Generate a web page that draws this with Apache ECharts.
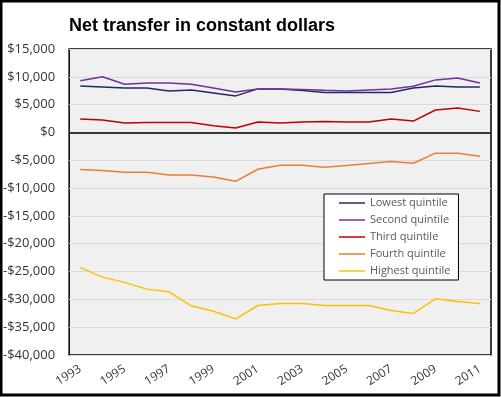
<!DOCTYPE html>
<html>
<head>
<meta charset="utf-8">
<script src="https://cdn.jsdelivr.net/npm/echarts@6/dist/echarts.min.js"></script>
<style>
  html, body { margin: 0; padding: 0; background: #fff; }
  #main { width: 501px; height: 397px; }
</style>
</head>
<body>
<div id="main"></div>
<script>
// years on the category axis
var years = ['1993', '1994', '1995', '1996', '1997', '1998', '1999', '2000', '2001', '2002',
  '2003', '2004', '2005', '2006', '2007', '2008', '2009', '2010', '2011'];

// net transfer by quintile
var lowest = [8370, 8190, 8000, 8000, 7470, 7650, 7110, 6570, 7830, 7830,
  7530, 7200, 7200, 7200, 7200, 8000, 8370, 8190, 8190];
var second = [9280, 10000, 8670, 8900, 8900, 8670, 8000, 7290, 7830, 7830,
  7700, 7580, 7470, 7650, 7830, 8300, 9450, 9800, 8900];
var third = [2410, 2230, 1690, 1810, 1810, 1810, 1200, 790, 1870, 1690,
  1870, 1990, 1870, 1870, 2410, 2050, 4040, 4400, 3790];
var fourth = [-6680, -6860, -7150, -7150, -7640, -7640, -8000, -8780, -6610, -5890,
  -5890, -6250, -5950, -5600, -5230, -5530, -3720, -3720, -4260];
var highest = [-24300, -26000, -26950, -28160, -28640, -31160, -32130, -33500, -31100, -30740,
  -30740, -31100, -31100, -31100, -32000, -32540, -29900, -30380, -30740];

var seriesNames = ['Lowest quintile', 'Second quintile', 'Third quintile', 'Fourth quintile', 'Highest quintile'];
var seriesData = [lowest, second, third, fourth, highest];
var colors = ['#1f2d5c', '#7030a0', '#c00000', '#ed7d31', '#ffc000'];

var font = 'Open Sans';

function money(v) {
  var s = Math.abs(v).toString().replace(/\B(?=(\d{3})+(?!\d))/g, ',');
  return (v < 0 ? '-$' : '$') + s;
}

var chart = echarts.init(document.getElementById('main'), null, { renderer: 'canvas' });

var series = seriesNames.map(function (name, i) {
  var s = {
    name: name,
    type: 'line',
    data: seriesData[i],
    symbol: 'none',
    lineStyle: { color: colors[i], width: 1.5 },
    itemStyle: { color: colors[i] },
    z: 3
  };
  if (i === 0) {
    // black line at zero
    s.markLine = {
      silent: true,
      symbol: 'none',
      label: { show: false },
      lineStyle: { color: '#000', width: 1.5, type: 'solid' },
      data: [{ yAxis: 0 }],
      z: 2
    };
  }
  return s;
});

var option = {
  backgroundColor: '#fff',
  animation: false,
  color: colors,
  title: {
    text: 'Net transfer in constant dollars',
    left: 64,
    top: 12,
    textStyle: { fontFamily: 'Liberation Sans', fontWeight: 'bold', fontSize: 18, color: '#000' }
  },
  legend: {
    orient: 'vertical',
    left: 324,
    top: 194,
    data: seriesNames,
    backgroundColor: '#fff',
    borderColor: '#000',
    borderWidth: 1,
    padding: [2, 8, 2, 15],
    icon: 'rect',
    itemGap: 3,
    itemWidth: 26,
    itemHeight: 1.5,
    textStyle: { fontFamily: font, fontSize: 11, lineHeight: 14, color: '#595959' }
  },
  grid: {
    left: 67,
    right: 10,
    top: 49,
    bottom: 42,
    show: true,
    backgroundColor: '#f0f0f0',
    borderColor: '#000',
    borderWidth: 1.5
  },
  xAxis: {
    type: 'category',
    data: years,
    boundaryGap: true,
    axisLine: { show: false },
    axisTick: { show: false },
    axisLabel: {
      interval: 1,
      rotate: 32,
      margin: 13,
      fontFamily: font,
      fontSize: 12,
      color: '#333'
    }
  },
  yAxis: {
    type: 'value',
    min: -40000,
    max: 15000,
    interval: 5000,
    axisLine: { show: false },
    axisTick: { show: false },
    splitLine: { lineStyle: { color: '#d9d9d9', width: 1 } },
    axisLabel: {
      formatter: money,
      margin: 14,
      fontFamily: font,
      fontSize: 13,
      color: '#333'
    }
  },
  graphic: [{
    type: 'rect',
    shape: { x: 1, y: 1, width: 498, height: 394 },
    style: { fill: 'none', stroke: '#000', lineWidth: 3 },
    silent: true
  }],
  series: series
};

chart.setOption(option);
</script>
</body>
</html>
